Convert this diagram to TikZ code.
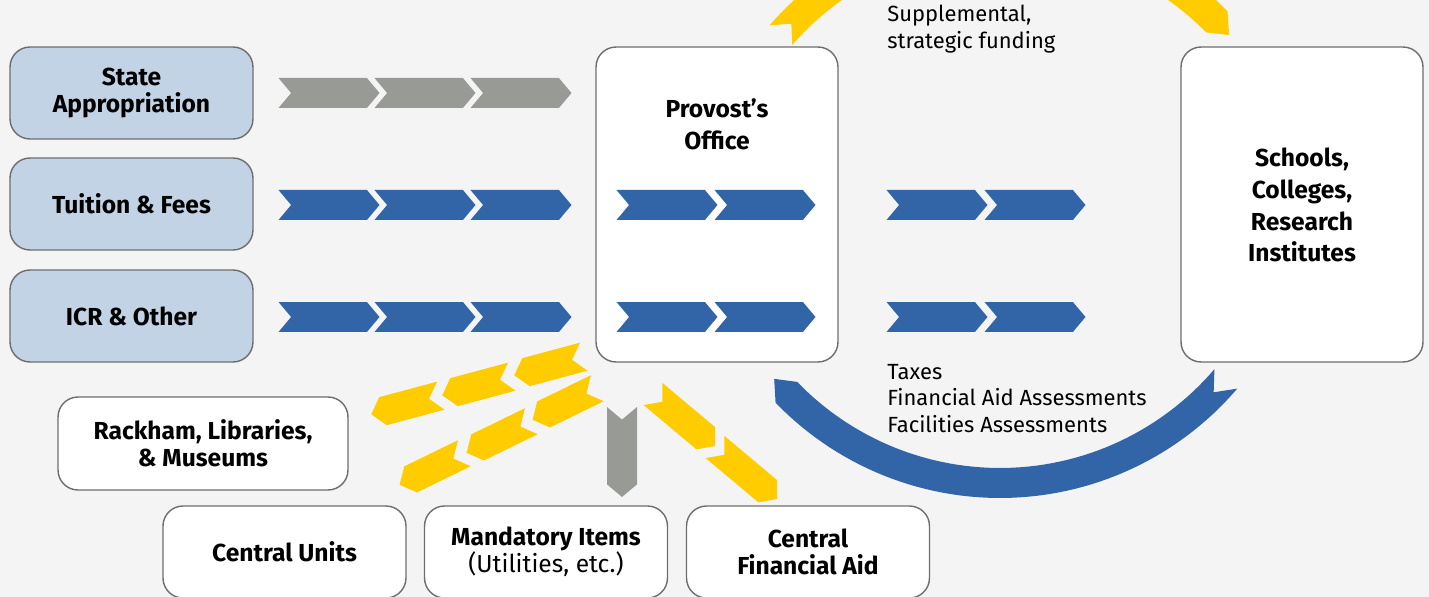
\documentclass[tikz,border=0pt]{standalone}
\usepackage{fontspec}
\setmainfont{Fira Sans}
\usepackage{xcolor}
\definecolor{bgrey}{HTML}{F4F4F4}
\definecolor{srcblue}{HTML}{C2D3E5}
\definecolor{flowblue}{HTML}{3165A8}
\definecolor{flowgold}{HTML}{FFCC00}
\definecolor{flowgrey}{HTML}{989A95}
\definecolor{boxline}{HTML}{6E6E6E}
\usepackage{tikz}
\usetikzlibrary{shapes.symbols,positioning}

\begin{document}
\begin{tikzpicture}[x=0.02cm, y=-0.02cm,
      src/.style={draw=boxline, line width=0.8pt, rounded corners=0.4cm, fill=srcblue, align=center, font=\bfseries\fontsize{14}{15.3}\selectfont, minimum width=4.86cm, minimum height=1.84cm},
      unit/.style={draw=boxline, line width=0.8pt, rounded corners=0.4cm, fill=white, align=center, font=\bfseries\fontsize{14}{15.3}\selectfont, minimum width=4.86cm, minimum height=1.84cm},
      big/.style={draw=boxline, line width=0.8pt, rounded corners=0.4cm, fill=white, minimum width=4.84cm, minimum height=6.3cm},
      boldtxt/.style={align=center, font=\bfseries\fontsize{14}{18.1}\selectfont},
      note/.style={align=left, anchor=north west, inner sep=0pt, font=\fontsize{12.5}{15}\selectfont},
      chev/.style={signal, signal from=west, signal to=east, signal pointer angle=100, inner sep=0pt, minimum width=2.02cm, minimum height=0.6cm},
      dchev/.style={signal, signal from=east, signal to=west, signal pointer angle=100, inner sep=0pt, minimum width=1.44cm, minimum height=0.58cm, fill=flowgold}
    ]
    \fill[bgrey] (0,0) rectangle (1429,597);
    \clip (0,0) rectangle (1429,597);

    % curved flows between provost and units
    \fill[flowgold, shift={(1005,230)}] plot[domain=221:315.5, samples=60] ({312*cos(\x)},{312*sin(\x)})
      -- ({297*cos(319)},{297*sin(319)})
      -- plot[domain=315.5:221, samples=60] ({282*cos(\x)},{282*sin(\x)})
      -- ({297*cos(224)},{297*sin(224)}) -- cycle;
    \fill[flowblue, shift={(1000,186)}] plot[domain=40.5:136, samples=60] ({312*cos(\x)},{312*sin(\x)})
      -- ({297*cos(139.5)},{297*sin(139.5)})
      -- plot[domain=136:40.5, samples=60] ({282*cos(\x)},{282*sin(\x)})
      -- ({297*cos(44)},{297*sin(44)}) -- cycle;

    \node[src] (state) at (131.5,93) {State\\Appropriation};
    \node[src] (tuition) at (131.5,204) {Tuition \& Fees};
    \node[src] (icr) at (131.5,316) {ICR \& Other};

    \node[big] (prov) at (717,204.5) {};
    \node[boldtxt] (provtxt) at (717,124) {Provost’s\\Office};
    \node[big] (schools) at (1302,204.5) {};
    \node[boldtxt] (schooltxt) at (1302,205) {Schools,\\Colleges,\\Research\\Institutes};

    \node[unit, minimum width=5.8cm, minimum height=1.86cm] (rackham) at (203,443.5) {Rackham, Libraries,\\\& Museums};
    \node[unit] (central) at (284.5,552) {Central Units};
    \node[unit] (mand) at (546,552) {Mandatory Items\\{\mdseries (Utilities, etc.)}};
    \node[unit] (cfa) at (808,552) {Central\\Financial Aid};

    \node[note] (supp) at (887,5) {Supplemental,\\strategic funding};
    \node[note] (taxes) at (887,364) {Taxes\\Financial Aid Assessments\\Facilities Assessments};

    % straight chevrons
    \node[chev, fill=flowgrey] (g1) at (329,93) {};
    \node[chev, fill=flowgrey] (g2) at (425,93) {};
    \node[chev, fill=flowgrey] (g3) at (521,93) {};
    \node[chev, fill=flowblue] (t1) at (329,205) {};
    \node[chev, fill=flowblue] (t2) at (425,205) {};
    \node[chev, fill=flowblue] (t3) at (521,205) {};
    \node[chev, fill=flowblue] (t4) at (667,205) {};
    \node[chev, fill=flowblue] (t5) at (765,205) {};
    \node[chev, fill=flowblue] (t6) at (937,205) {};
    \node[chev, fill=flowblue] (t7) at (1035,205) {};
    \node[chev, fill=flowblue] (i1) at (329,317) {};
    \node[chev, fill=flowblue] (i2) at (425,317) {};
    \node[chev, fill=flowblue] (i3) at (521,317) {};
    \node[chev, fill=flowblue] (i4) at (667,317) {};
    \node[chev, fill=flowblue] (i5) at (765,317) {};
    \node[chev, fill=flowblue] (i6) at (937,317) {};
    \node[chev, fill=flowblue] (i7) at (1035,317) {};

    % diagonal chevrons out of the provost
    \node[dchev, rotate=15] (ya1) at (406,405) {};
    \node[dchev, rotate=15] (ya2) at (477,386) {};
    \node[dchev, rotate=15] (ya3) at (549,366) {};
    \node[dchev, rotate=26] (yb1) at (432,469) {};
    \node[dchev, rotate=26] (yb2) at (499,437) {};
    \node[dchev, rotate=26] (yb3) at (565,404) {};
    \node[dchev, fill=flowgrey, rotate=90, minimum width=1.8cm, minimum height=0.6cm] (gm) at (622,452) {};
    \node[dchev, signal from=west, signal to=east, rotate=-40, minimum width=1.62cm] (yc1) at (684,420) {};
    \node[dchev, signal from=west, signal to=east, rotate=-40, minimum width=1.62cm] (yc2) at (746,473) {};
  \end{tikzpicture}
\end{document}
